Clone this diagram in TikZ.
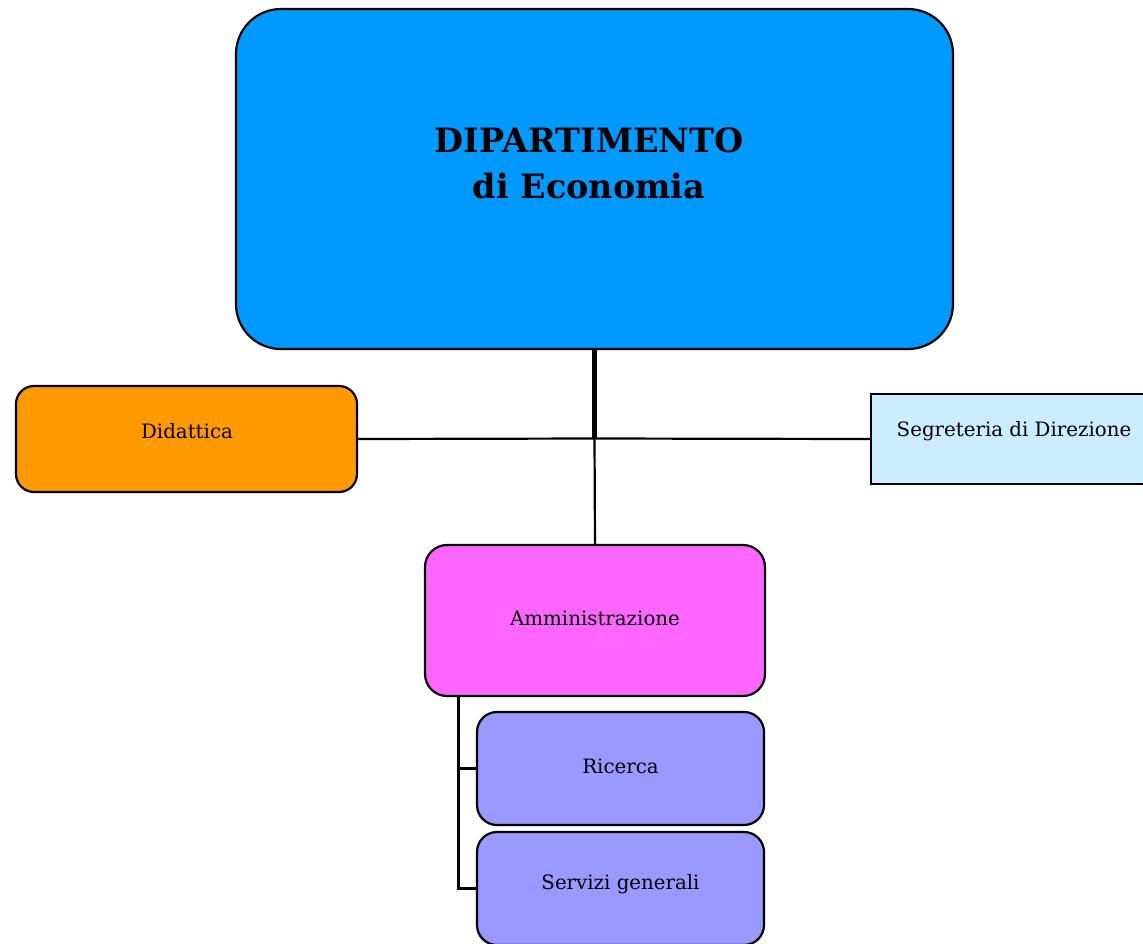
\documentclass[tikz,border=0pt]{standalone}
\usepackage{fontspec}
\setmainfont{DejaVu Serif}
\definecolor{mainblue}{HTML}{0099FF}
\definecolor{didorange}{HTML}{FF9900}
\definecolor{seglight}{HTML}{CCECFF}
\definecolor{admpink}{HTML}{FF66FF}
\definecolor{subviolet}{HTML}{9999FF}
\tikzset{
  box/.style={draw=black, line width=2.2pt, inner sep=0pt},
  lbl/.style={font=\fontsize{19.8}{23}\selectfont},
  conn/.style={draw=black, line width=2.2pt},
  thickconn/.style={draw=black, line width=4.8pt},
}
\begin{document}
\begin{tikzpicture}[x=1pt,y=-1pt]
\useasboundingbox (0,0) rectangle (1143,943);
\clip (0,0) rectangle (1143,943);
\node[box, fill=mainblue, rounded corners=45pt, minimum width=717pt, minimum height=340pt] (main) at (594.5,179) {};
\node[font=\fontsize{33.5}{46}\selectfont\bfseries, align=center] (title) at (589,163) {DIPARTIMENTO\\ di Economia};
\node[box, fill=didorange, rounded corners=18pt, minimum width=341pt, minimum height=106pt] (did) at (186.5,439) {};
\node[lbl] (didt) at (187,431) {Didattica};
\node[box, fill=seglight, minimum width=286pt, minimum height=90pt] (seg) at (1014,439) {};
\node[lbl] (segt) at (1014,431) {Segreteria di Direzione};
\node[box, fill=admpink, rounded corners=22pt, minimum width=340pt, minimum height=151pt] (adm) at (595,620.5) {};
\node[lbl] (admt) at (595,618) {Amministrazione};
\node[box, fill=subviolet, rounded corners=20pt, minimum width=287pt, minimum height=113pt] (ric) at (620.5,768.5) {};
\node[lbl] (rict) at (620.5,766) {Ricerca};
\node[box, fill=subviolet, rounded corners=20pt, minimum width=287pt, minimum height=113pt] (srv) at (620.5,888.5) {};
\node[lbl] (srvt) at (620.5,884) {Servizi generali};
\coordinate (j) at (594.5,438.5);
\coordinate (bx) at (458,0);
\draw[thickconn] (main.south) -- (j);
\draw[conn] (did.east) -- (j) -- (seg.west);
\draw[conn] (j) -- (adm.north);
\draw[line width=3pt] (bx |- adm.south) -- (bx |- srv.west) -- (srv.west);
\draw[conn] (bx |- ric.west) -- (ric.west);
\end{tikzpicture}
\end{document}
